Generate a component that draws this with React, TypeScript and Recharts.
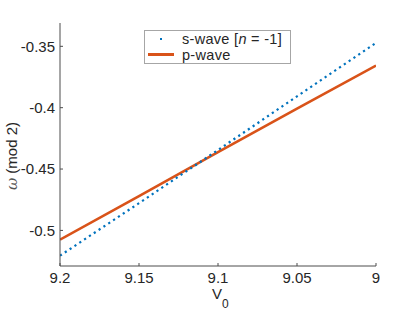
import React from "react";
import { Line, LineChart, XAxis, YAxis } from "recharts";

const V0 = [9.2, 9.15, 9.1, 9.05, 9];
const S_WAVE = [-0.5206, -0.4778, -0.4345, -0.3908, -0.3472];
const P_WAVE = [-0.5075, -0.472, -0.4362, -0.4008, -0.3657];
const X_TICKS = [9.2, 9.15, 9.1, 9.05, 9];
const Y_TICKS = [-0.5, -0.45, -0.4, -0.35];

const FONT = "'Liberation Sans', Arial, Helvetica, sans-serif";
const INK = "#262626";
const AXIS_LINE = "#4d4d4d";
const BLUE = "#0072BD";
const ORANGE = "#D95319";
const TICK = { fontSize: 15, fill: INK, fontFamily: FONT };

const rows = V0.map((v, i) => ({ v, s: S_WAVE[i], p: P_WAVE[i] }));

export default function App() {
  return (
    <div style={{ position: "absolute", left: 0, top: 0, width: 415, height: 312, background: "#fff" }}>
      <LineChart
        width={415}
        height={312}
        data={rows}
        margin={{ top: 23, right: 39, bottom: 0, left: 0 }}
      >
        <XAxis
          dataKey="v"
          type="number"
          domain={[9, 9.2]}
          reversed
          ticks={X_TICKS}
          tickFormatter={(v) => String(v)}
          height={46}
          tickSize={-3}
          tickMargin={9}
          stroke={AXIS_LINE}
          tick={TICK}
          allowDataOverflow
          label={{
            content: () => (
              <text x={212} y={299} fontFamily={FONT} fontSize={15} fill={INK}>
                V
                <tspan fontSize={12} dy={9}>0</tspan>
              </text>
            ),
          }}
        />
        <YAxis
          type="number"
          domain={[-0.529, -0.331]}
          ticks={Y_TICKS}
          tickFormatter={(v) => String(v)}
          width={60}
          tickSize={-3}
          tickMargin={8}
          stroke={AXIS_LINE}
          tick={TICK}
          allowDataOverflow
          label={{
            content: () => (
              <text
                x={17}
                y={156}
                transform="rotate(-90 17 156)"
                textAnchor="middle"
                fontFamily={FONT}
                fontSize={15}
                fill={INK}
              >
                <tspan fontFamily="'DejaVu Serif', serif" fontStyle="italic" fill="#555">ω</tspan>
                <tspan> (mod 2)</tspan>
              </text>
            ),
          }}
        />
        <Line
          dataKey="p"
          type="linear"
          stroke={ORANGE}
          strokeWidth={2.6}
          dot={false}
          isAnimationActive={false}
        />
        <Line
          dataKey="s"
          type="linear"
          stroke={BLUE}
          strokeWidth={2.2}
          strokeDasharray="2.2 3.6"
          dot={false}
          isAnimationActive={false}
        />
      </LineChart>
      <div
        style={{
          position: "absolute",
          left: 144,
          top: 30,
          width: 145,
          height: 32,
          border: "1px solid #a6a6a6",
          background: "#fff",
          fontFamily: FONT,
          fontSize: 14.5,
          color: INK,
          lineHeight: "14px",
        }}
      >
        <div style={{ position: "absolute", left: 15, top: 7, width: 2, height: 2, background: BLUE }} />
        <div style={{ position: "absolute", left: 37, top: 1, whiteSpace: "nowrap", letterSpacing: 0.3 }}>
          s-wave [<i>n</i> = -1]
        </div>
        <div style={{ position: "absolute", left: 3, top: 22, width: 26, height: 2.6, background: ORANGE }} />
        <div style={{ position: "absolute", left: 37, top: 17, whiteSpace: "nowrap", letterSpacing: 0.3 }}>
          p-wave
        </div>
      </div>
    </div>
  );
}
